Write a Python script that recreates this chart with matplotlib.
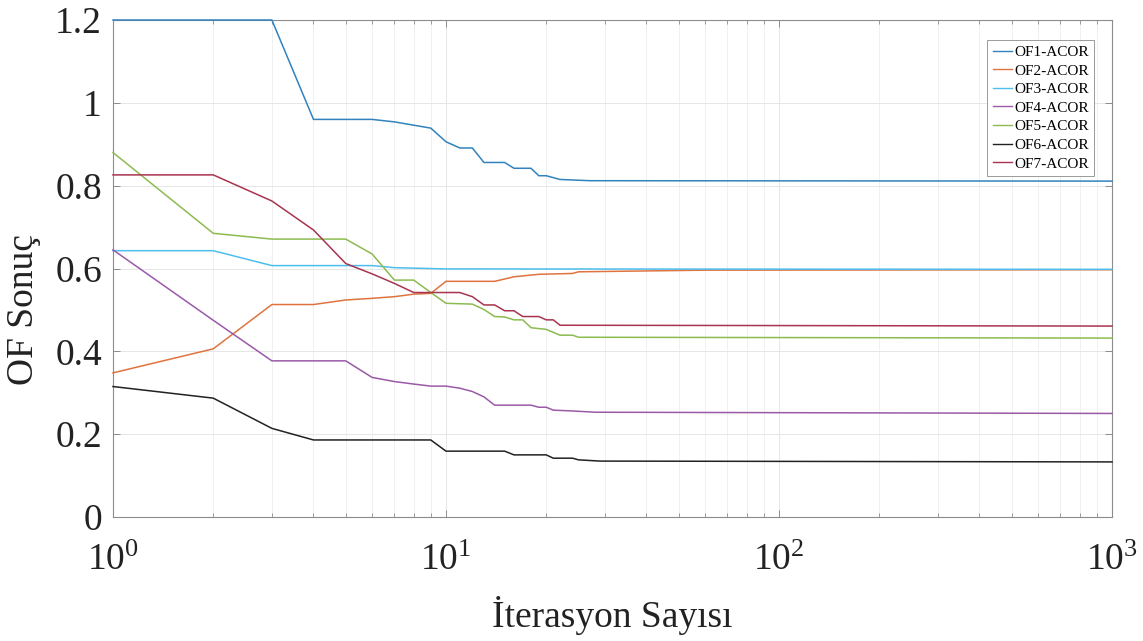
import matplotlib
matplotlib.use("Agg")
import matplotlib.pyplot as plt
from matplotlib.ticker import LogLocator, FixedLocator, FixedFormatter, NullFormatter

plt.rcParams['font.family'] = ['Liberation Serif', 'DejaVu Serif']
plt.rcParams['mathtext.fontset'] = 'custom'
plt.rcParams['mathtext.rm'] = 'Liberation Serif'
plt.rcParams['mathtext.it'] = 'Liberation Serif:italic'

# iteration breakpoints and objective values
it1 = [1, 2, 3, 4, 6, 7, 8, 9, 10, 11, 12, 13, 15, 16, 18, 19, 20, 22, 27, 1000]
of1 = [1.2, 1.2, 1.2, 0.96, 0.96, 0.954, 0.946, 0.939, 0.906, 0.891, 0.891, 0.856,
       0.856, 0.842, 0.842, 0.824, 0.824, 0.815, 0.812, 0.811]

it2 = [1, 2, 3, 4, 5, 6, 7, 8, 9, 10, 14, 16, 19, 24, 25, 60, 1000]
of2 = [0.348, 0.406, 0.513, 0.513, 0.524, 0.528, 0.532, 0.538, 0.540, 0.569, 0.569,
       0.580, 0.586, 0.588, 0.592, 0.596, 0.597]

it3 = [1, 2, 3, 6, 7, 10, 1000]
of3 = [0.643, 0.643, 0.607, 0.607, 0.602, 0.599, 0.598]

it4 = [1, 2, 3, 5, 6, 7, 8, 9, 10, 11, 12, 13, 14, 18, 19, 20, 21, 24, 28, 1000]
of4 = [0.645, 0.475, 0.377, 0.377, 0.337, 0.327, 0.321, 0.316, 0.316, 0.311, 0.303,
       0.290, 0.270, 0.270, 0.265, 0.265, 0.258, 0.256, 0.253, 0.250]

it5 = [1, 2, 3, 5, 6, 7, 8, 9, 10, 12, 13, 14, 15, 16, 17, 18, 20, 22, 24, 25, 1000]
of5 = [0.880, 0.685, 0.671, 0.671, 0.635, 0.572, 0.572, 0.542, 0.516, 0.514, 0.501,
       0.484, 0.483, 0.476, 0.476, 0.457, 0.453, 0.439, 0.439, 0.434, 0.432]

it6 = [1, 2, 3, 4, 9, 10, 15, 16, 20, 21, 24, 25, 29, 1000]
of6 = [0.315, 0.287, 0.214, 0.186, 0.186, 0.159, 0.159, 0.150, 0.150, 0.142, 0.142,
       0.138, 0.135, 0.133]

it7 = [1, 2, 3, 4, 5, 6, 7, 8, 11, 12, 13, 14, 15, 16, 17, 19, 20, 21, 22, 1000]
of7 = [0.826, 0.826, 0.763, 0.693, 0.612, 0.587, 0.564, 0.542, 0.542, 0.532, 0.512,
       0.512, 0.498, 0.498, 0.484, 0.484, 0.476, 0.476, 0.463, 0.461]

labels = ["OF1-ACOR", "OF2-ACOR", "OF3-ACOR", "OF4-ACOR", "OF5-ACOR", "OF6-ACOR", "OF7-ACOR"]
colors = ["#3282be", "#e0733f", "#4dbeee", "#9a5aa8", "#8cbb50", "#222222", "#a8344f"]

y_ticks = [0, 0.2, 0.4, 0.6, 0.8, 1.0, 1.2]
y_tick_labels = ["0", "0.2", "0.4", "0.6", "0.8", "1", "1.2"]

fig = plt.figure(figsize=(11.43, 6.41), dpi=100)
ax = fig.add_axes([113 / 1143, 1 - 517 / 641, 999 / 1143, 497 / 641])

series = [(it1, of1), (it2, of2), (it3, of3), (it4, of4), (it5, of5), (it6, of6), (it7, of7)]
for (x, y), lab, c in zip(series, labels, colors):
    ax.plot(x, y, color=c, lw=1.1, label=lab, zorder=3, clip_on=False)

ax.set_xscale('log')
ax.set_xlim(1, 1000)
ax.set_ylim(0, 1.2)
ax.xaxis.set_major_locator(LogLocator(base=10, numticks=10))
ax.xaxis.set_minor_locator(LogLocator(base=10, subs=range(2, 10), numticks=20))
ax.xaxis.set_minor_formatter(NullFormatter())
ax.yaxis.set_major_locator(FixedLocator(y_ticks))
ax.yaxis.set_major_formatter(FixedFormatter(y_tick_labels))

ax.grid(True, which='major', color='#e6e6e6', lw=0.7)
ax.grid(True, which='minor', axis='x', color='#eeeeee', lw=0.6)
ax.set_axisbelow(True)

for s in ax.spines.values():
    s.set_color('#8c8c8c')
    s.set_linewidth(0.8)
ax.tick_params(which='both', direction='in', top=True, right=True, colors='#8c8c8c',
               labelcolor='#222222', labelsize=27)
ax.tick_params(which='major', length=5, width=0.7)
ax.tick_params(which='minor', length=3, width=0.6)
ax.tick_params(axis='x', pad=19)
ax.tick_params(axis='y', pad=8)

ax.set_xlabel("İterasyon Sayısı", fontsize=27, color='#222222', labelpad=13)
ax.set_ylabel("OF Sonuç", fontsize=27, color='#222222')
ax.yaxis.set_label_coords(-0.072, 0.418)

leg = ax.legend(loc='upper right', bbox_to_anchor=(1094 / 1143, 1 - 40 / 641),
                bbox_transform=fig.transFigure, borderaxespad=0, fontsize=11,
                handlelength=1.3, handletextpad=0.1, labelspacing=0.32,
                borderpad=0.35, fancybox=False, framealpha=1, edgecolor='#9a9a9a')
leg.get_frame().set_linewidth(0.7)
for h in leg.get_lines():
    h.set_linewidth(1.0)

fig.savefig("out.png", dpi=100)
